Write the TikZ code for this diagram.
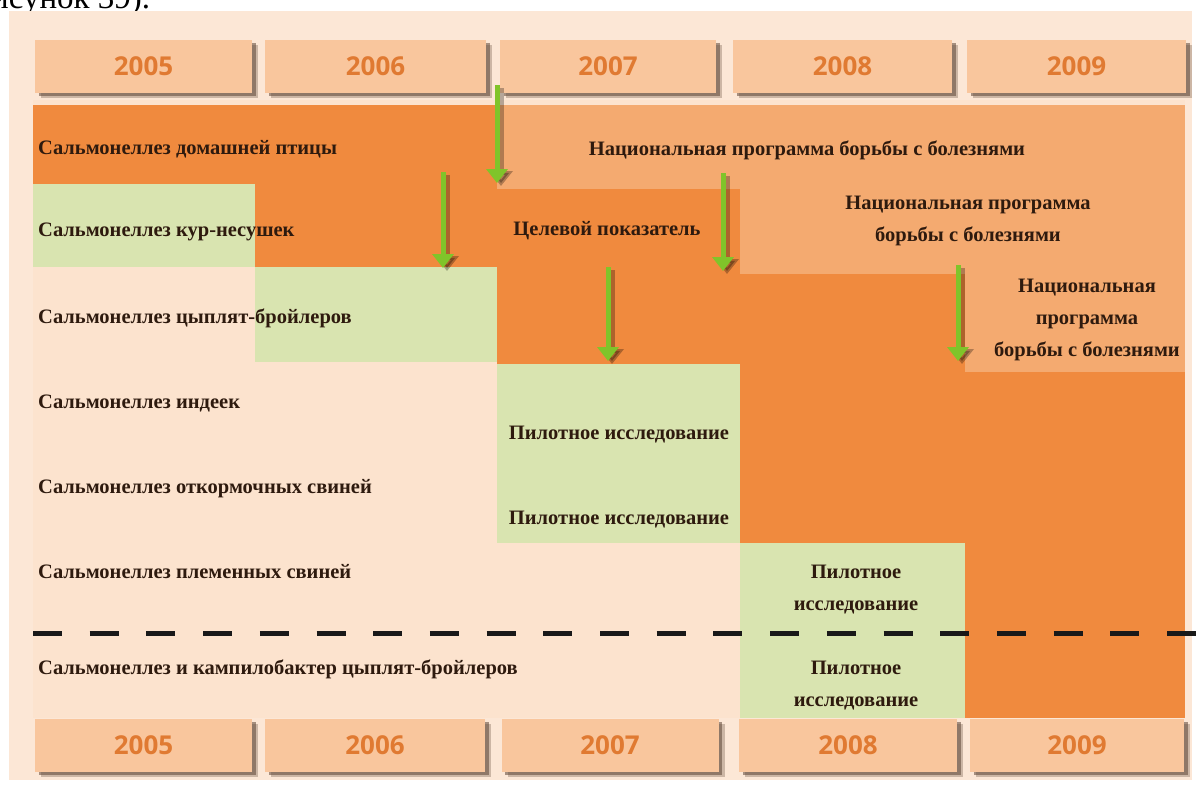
\documentclass[tikz,border=0pt]{standalone}
\usepackage{fontspec}
\setmainfont{Liberation Serif}
\newfontfamily\yearfont{Open Sans}
\usetikzlibrary{arrows.meta}
\definecolor{panel}{HTML}{FCE7D6}
\definecolor{peach}{HTML}{FCE3CE}
\definecolor{darkor}{HTML}{F08A3E}
\definecolor{lightor}{HTML}{F4AA70}
\definecolor{pgreen}{HTML}{D9E4B0}
\definecolor{boxfill}{HTML}{F9C69D}
\definecolor{yeartxt}{HTML}{E07A32}
\definecolor{shadowc}{HTML}{5E4636}
\definecolor{txt}{HTML}{2E1A0E}
\definecolor{arrowg}{HTML}{80C42A}
\begin{document}
\begin{tikzpicture}[x=1pt,y=-1pt,
  lbl/.style={font=\bfseries\fontsize{20.5}{32}\selectfont, text=txt, inner sep=0pt},
  lleft/.style={lbl, anchor=base west},
  lbase/.style={lbl, anchor=base},
  lmulti/.style={lbl, align=center},
  yearbox/.style={fill=boxfill, minimum height=53pt, inner sep=0pt,
    font=\yearfont\bfseries\fontsize{26}{26}\selectfont, text=yeartxt,
    preaction={fill=shadowc, opacity=.3, transform canvas={shift={(6pt,-5pt)}}},
    preaction={fill=shadowc, opacity=.55, transform canvas={shift={(3.5pt,-3pt)}}}},
  garrow/.style={draw=arrowg, line width=5pt, -{Triangle[width=21pt,length=14pt]}},
  gshadow/.style={draw=black, opacity=.28, line width=6pt, -{Triangle[width=23pt,length=15pt]},
    transform canvas={shift={(4pt,-3pt)}}},
  dashline/.style={draw=black!90, line width=5pt, dash pattern=on 29pt off 27.7pt}
]
\useasboundingbox (0,0) rectangle (1202,785);
% caption fragment cut at the top (as in the reference)
\node[anchor=base west, inner sep=0pt, font=\fontsize{33}{33}\selectfont] (cap) at (-9,8) {исунок 39).};
% panel
\fill[panel] (9,11) rectangle (1192,780);
\fill[peach] (33,100) rectangle (1185,718);
% dark orange blocks
\fill[darkor] (33,105) rectangle (497,184);
\fill[darkor] (255,184) rectangle (497,267);
\fill[darkor] (497,189) rectangle (740,364);
\fill[darkor] (740,274) rectangle (965,543);
\fill[darkor] (965,372) rectangle (1185,718);
% light orange blocks
\fill[lightor] (497,105) rectangle (1185,189);
\fill[lightor] (740,189) rectangle (1185,274);
\fill[lightor] (965,274) rectangle (1185,372);
% green blocks
\fill[pgreen] (33,184) rectangle (255,267);
\fill[pgreen] (255,267) rectangle (497,362);
\fill[pgreen] (497,364) rectangle (740,543);
\fill[pgreen] (740,543) rectangle (965,718);
% year boxes top
\node[yearbox, minimum width=217pt] (t2005) at (143.5,66.5) {2005};
\node[yearbox, minimum width=221pt] (t2006) at (375.5,66.5) {2006};
\node[yearbox, minimum width=216pt] (t2007) at (608,66.5) {2007};
\node[yearbox, minimum width=219pt] (t2008) at (842.5,66.5) {2008};
\node[yearbox, minimum width=219pt] (t2009) at (1076.5,66.5) {2009};
% year boxes bottom
\node[yearbox, minimum width=217pt] (b2005) at (143.5,745) {2005};
\node[yearbox, minimum width=220pt] (b2006) at (375,745) {2006};
\node[yearbox, minimum width=217pt] (b2007) at (610,745) {2007};
\node[yearbox, minimum width=218pt] (b2008) at (848,745) {2008};
\node[yearbox, minimum width=214pt] (b2009) at (1077,745) {2009};
% row labels
\node[lleft] (r1) at (38,154) {Сальмонеллез домашней птицы};
\node[lleft] (r2) at (38,236) {Сальмонеллез кур-несушек};
\node[lleft] (r3) at (38,323) {Сальмонеллез цыплят-бройлеров};
\node[lleft] (r4) at (38,408) {Сальмонеллез индеек};
\node[lleft] (r5) at (38,493) {Сальмонеллез откормочных свиней};
\node[lleft] (r6) at (38,578) {Сальмонеллез племенных свиней};
\node[lleft] (r7) at (38,674) {Сальмонеллез и кампилобактер цыплят-бройлеров};
% block labels
\node[lbase] (nat1) at (807,155) {Национальная программа борьбы с болезнями};
\node[lbase] (target) at (607,235) {Целевой показатель};
\node[lmulti] (nat2) at (968,221) {Национальная программа\\борьбы с болезнями};
\node[lmulti] (nat3) at (1087,320) {Национальная\\программа\\борьбы с болезнями};
\node[lbase] (pil1) at (619,439) {Пилотное исследование};
\node[lbase] (pil2) at (619,524) {Пилотное исследование};
\node[lmulti] (pil3) at (856,590) {Пилотное\\исследование};
\node[lmulti] (pil4) at (856,686) {Пилотное\\исследование};
% dashed separator
\coordinate (dl) at (33,633);
\coordinate (dr) at (1202,633);
\draw[dashline] (dl) -- (dr);
% arrows
\coordinate (a1s) at (497,85);  \coordinate (a1e) at (497,183);
\coordinate (a2s) at (443,172); \coordinate (a2e) at (443,268);
\coordinate (a3s) at (723,173); \coordinate (a3e) at (723,271);
\coordinate (a4s) at (608,267); \coordinate (a4e) at (608,361);
\coordinate (a5s) at (958,265); \coordinate (a5e) at (958,361);
\foreach \s/\e in {a1s/a1e,a2s/a2e,a3s/a3e,a4s/a4e,a5s/a5e}{
  \draw[gshadow] (\s) -- (\e);
  \draw[garrow] (\s) -- (\e);
}
\end{tikzpicture}
\end{document}
